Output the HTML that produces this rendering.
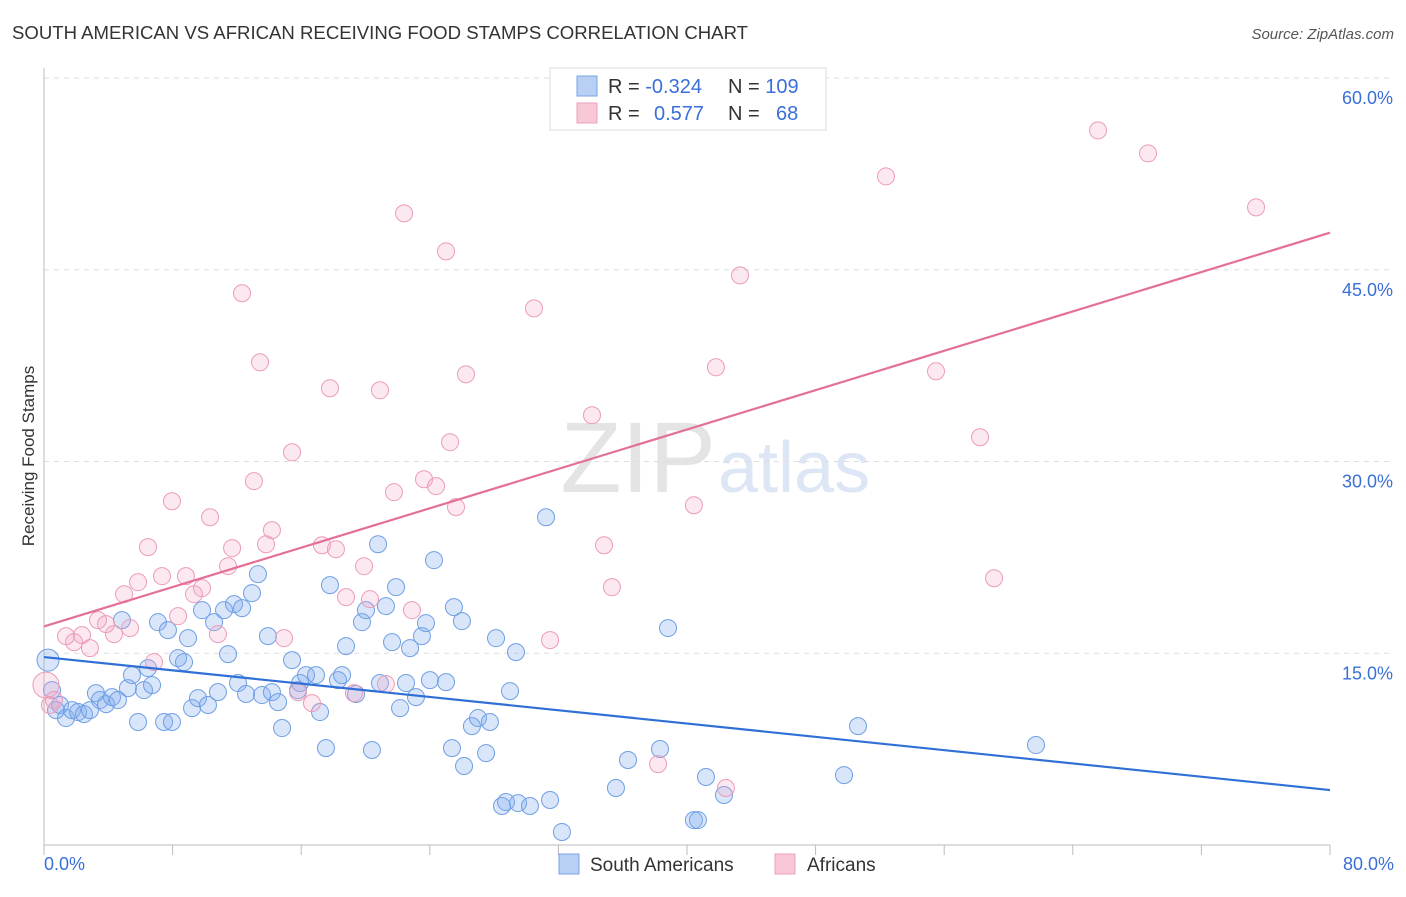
<!DOCTYPE html>
<html><head><meta charset="utf-8"><style>
body{margin:0;background:#fff;font-family:"Liberation Sans",sans-serif;}
svg text{font-family:"Liberation Sans",sans-serif;}
</style></head><body>
<svg id="chart" width="1406" height="892" viewBox="0 0 1406 892">
<text x="12" y="39" font-size="18" fill="#333" textLength="736" lengthAdjust="spacingAndGlyphs">SOUTH AMERICAN VS AFRICAN RECEIVING FOOD STAMPS CORRELATION CHART</text>
<text x="1394" y="39" font-size="15" fill="#555" text-anchor="end" font-style="italic">Source: ZipAtlas.com</text>
<text x="716" y="492" font-size="100" fill="#e4e4e4" text-anchor="end" font-family="Liberation Serif">ZIP</text>
<text x="718" y="492" font-size="72" fill="#dce6f4">atlas</text>
<g id="grid"></g>
<g id="axes"></g>
<g id="pts"></g>
<g id="trend"></g>
<text transform="translate(34,456) rotate(-90)" font-size="17" fill="#333" text-anchor="middle">Receiving Food Stamps</text>
<g>
<rect x="550" y="68" width="276" height="62" fill="#fff" stroke="#ddd"/>
<rect x="577" y="76" width="20" height="20" fill="#b8d0f4" stroke="#7aa3e4"/>
<rect x="577" y="103" width="20" height="20" fill="#f8c8d6" stroke="#eda0bb"/>
<text x="608" y="93" font-size="20" fill="#333">R = <tspan fill="#3a6fd8">-0.324</tspan><tspan x="728">N = </tspan><tspan fill="#3a6fd8">109</tspan></text>
<text x="608" y="120" font-size="20" fill="#333">R = <tspan x="654" fill="#3a6fd8">0.577</tspan><tspan x="728">N = </tspan><tspan x="776" fill="#3a6fd8">68</tspan></text>
</g>
<g>
<rect x="559" y="854" width="20" height="20" fill="#b8d0f4" stroke="#7aa3e4"/>
<text x="590" y="871" font-size="19" fill="#333">South Americans</text>
<rect x="775" y="854" width="20" height="20" fill="#f8c8d6" stroke="#eda0bb"/>
<text x="807" y="871" font-size="19" fill="#333">Africans</text>
</g>
</svg>
<script>
const yTicks=[15,30,45,60];
const xTickLabels=["0.0%","80.0%"];
const blueX=[0.25,0.5,0.75,1.0,1.37,1.74,2.12,2.49,2.86,3.23,3.48,3.86,4.23,4.6,4.85,5.22,5.47,5.85,6.22,6.47,6.72,7.09,7.47,7.71,7.96,8.34,8.71,8.96,9.21,9.58,9.83,10.2,10.58,10.82,11.2,11.45,11.82,12.07,12.32,12.57,12.94,13.31,13.56,13.93,14.18,14.56,14.81,15.43,15.8,15.93,16.3,16.92,17.17,17.54,17.79,18.29,18.54,18.79,19.41,19.78,20.03,20.4,20.78,20.9,21.27,21.65,21.9,22.15,22.52,22.77,23.14,23.51,23.76,24.01,24.26,25.01,25.38,25.5,26.0,26.13,26.62,27.0,27.5,27.74,28.12,28.49,28.74,28.99,29.36,29.49,30.23,31.23,31.48,32.22,35.58,36.33,38.32,38.82,40.43,40.68,41.18,42.3,49.77,50.64,61.71];
const blueY=[14.46,12.12,10.55,10.95,9.93,10.55,10.4,10.24,10.55,11.88,11.34,11.02,11.57,11.34,17.59,12.27,13.29,9.62,12.12,13.84,12.51,17.43,9.62,16.81,9.62,14.62,14.31,16.18,10.71,11.49,18.37,10.95,17.43,11.96,18.37,14.93,18.84,12.67,18.53,11.81,19.7,21.19,11.73,16.34,11.96,11.18,9.15,14.46,12.12,12.67,13.29,13.29,10.4,7.58,20.33,12.9,13.29,15.56,11.81,17.43,18.37,7.43,23.53,12.67,18.69,15.87,20.17,10.71,12.67,15.4,11.57,16.34,17.36,12.9,22.28,12.74,7.58,18.61,17.51,6.18,9.3,9.93,7.19,9.62,16.18,3.05,3.36,12.04,15.09,3.28,3.05,25.64,3.52,1.02,4.46,6.65,7.51,16.97,1.95,1.95,5.32,3.91,5.47,9.3,7.82];
const pinkX=[0.12,0.37,0.62,1.37,1.87,2.36,2.86,3.36,3.86,4.35,4.98,5.35,5.85,6.47,6.84,7.34,7.96,8.34,8.83,9.33,9.83,10.33,10.82,11.45,11.7,12.32,13.06,13.44,13.81,14.18,14.93,15.43,15.8,16.67,17.29,17.79,18.16,18.79,19.28,19.91,20.28,20.9,21.27,21.77,22.4,22.89,23.64,24.39,25.01,25.26,25.63,26.25,30.48,31.48,34.09,34.84,35.33,38.2,40.43,41.8,42.42,43.3,52.38,55.49,58.23,59.1,65.57,68.68,75.4];
const pinkY=[12.51,10.95,11.34,16.34,15.87,16.42,15.4,17.59,17.28,16.5,19.62,16.97,20.56,23.3,14.31,21.03,26.89,17.9,21.03,19.62,20.09,25.64,16.5,21.81,23.22,43.16,28.46,37.76,23.53,24.63,16.18,30.72,11.96,11.1,23.45,35.73,23.14,19.39,11.88,21.81,19.23,35.57,12.59,27.6,49.41,18.37,28.61,28.07,46.44,31.51,26.43,36.82,41.98,16.03,33.62,23.45,20.17,6.33,26.58,37.37,4.46,44.56,52.3,37.06,31.9,20.87,55.9,54.1,49.88];
const blueTrend=[14.7,4.3];
const pinkTrend=[17.1,47.9];
const X0=44,X1=1330,Y0=845,Y1=78;
const sx=v=>X0+v/80*(X1-X0);
const sy=v=>Y0-v/60*(Y0-Y1);
const NS="http://www.w3.org/2000/svg";
function mk(tag,attrs,parent){const e=document.createElementNS(NS,tag);for(const k in attrs)e.setAttribute(k,attrs[k]);document.getElementById(parent).appendChild(e);return e;}
yTicks.forEach(t=>{
 const l=mk("line",{x1:X0,x2:1394,y1:sy(t),y2:sy(t),stroke:"#ddd","stroke-dasharray":"5,5"},"grid");
 
 
 const tx=mk("text",{x:1393,y:sy(t)+26,"font-size":18,fill:"#3a6fd8","text-anchor":"end"},"grid");
 tx.textContent=t.toFixed(1)+"%";
 
 
});
const ax=mk("line",{x1:X0,x2:X1,y1:Y0,y2:Y0,stroke:"#bbb"},"axes");


const ay=mk("line",{x1:X0,x2:X0,y1:68,y2:Y0,stroke:"#bbb"},"axes");


for(let i=0;i<=10;i++){
 const tk=mk("line",{x1:sx(i*8),x2:sx(i*8),y1:Y0,y2:Y0+10,stroke:"#bbb"},"axes");
 
 
}
const xl0=mk("text",{x:44,y:870,"font-size":18,fill:"#3a6fd8"},"axes");
xl0.textContent=xTickLabels[0];


const xl1=mk("text",{x:1394,y:870,"font-size":18,fill:"#3a6fd8","text-anchor":"end"},"axes");
xl1.textContent=xTickLabels[1];


blueX.forEach((v,i)=>{
 const c=mk("circle",{cx:sx(v),cy:sy(blueY[i]),r:i===0?11:8.5,fill:"rgba(130,172,238,0.3)",stroke:"#6f9fe4","stroke-width":1},"pts");
 
 
});
pinkX.forEach((v,i)=>{
 const c=mk("circle",{cx:sx(v),cy:sy(pinkY[i]),r:i===0?13:8.5,fill:"rgba(245,165,195,0.25)",stroke:"#ec9cb9","stroke-width":1},"pts");
 
 
});
const bl=mk("line",{x1:sx(0),y1:sy(blueTrend[0]),x2:sx(80),y2:sy(blueTrend[1]),stroke:"#2f6fd6","stroke-width":2.2},"trend");


const pl=mk("line",{x1:sx(0),y1:sy(pinkTrend[0]),x2:sx(80),y2:sy(pinkTrend[1]),stroke:"#e4709a","stroke-width":2.2},"trend");


</script>
</body></html>
